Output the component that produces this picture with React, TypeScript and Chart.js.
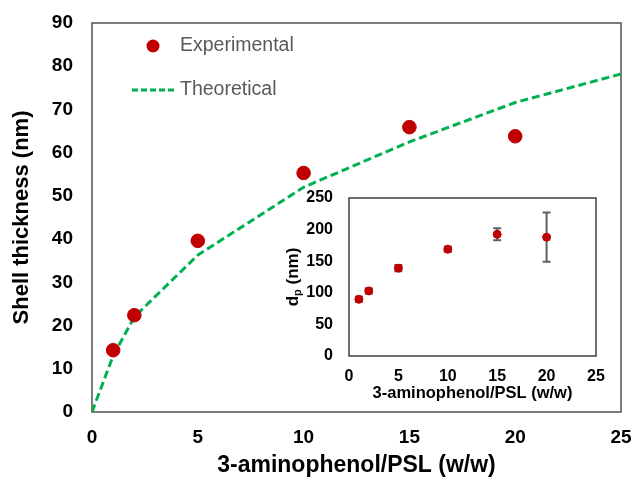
import React, { useEffect, useRef } from "react";
import { Chart, registerables } from "chart.js";
Chart.register(...registerables);

// ---- data ----
const expRatios = [1, 2, 5, 10, 15, 20];
const shellExp = [14.3, 22.4, 39.6, 55.3, 65.9, 63.8];
const theoRatios = [0, 1, 2, 5, 10, 15, 20, 25];
const shellTheo = [0, 13, 22, 36.3, 52, 62.5, 71.6, 78.2];
const dpValues = [89.7, 103, 139, 169, 192.5, 188];
const dpErrors = [4, 4, 5, 4, 9.5, 39];

const legendLabels = ["Experimental", "Theoretical"];
const mainXTitle = "3-aminophenol/PSL (w/w)";
const mainYTitle = "Shell thickness (nm)";
const insetXTitle = "3-aminophenol/PSL (w/w)";

const FONT = "'Liberation Sans', Arial, sans-serif";
const RED = "#C00000";
const GREEN = "#00B050";
const TXT = "#000000";

const boxPlugin = {
  id: "boxPlugin",
  beforeDatasetsDraw(chart: any) {
    const { ctx, chartArea: a } = chart;
    ctx.save();
    ctx.strokeStyle = "#505050";
    ctx.lineWidth = 1.5;
    ctx.strokeRect(a.left, a.top, a.right - a.left, a.bottom - a.top);
    ctx.restore();
  },
};

const legendPlugin = {
  id: "legendPlugin",
  afterDraw(chart: any) {
    const { ctx } = chart;
    ctx.save();
    ctx.fillStyle = RED;
    ctx.beginPath();
    ctx.arc(153, 46, 6.5, 0, Math.PI * 2);
    ctx.fill();
    ctx.strokeStyle = GREEN;
    ctx.lineWidth = 3;
    ctx.setLineDash([6, 3]);
    ctx.beginPath();
    ctx.moveTo(132, 90);
    ctx.lineTo(177, 90);
    ctx.stroke();
    ctx.setLineDash([]);
    ctx.fillStyle = "#595959";
    ctx.font = `19.5px ${FONT}`;
    ctx.textBaseline = "middle";
    ctx.textAlign = "left";
    ctx.fillText(legendLabels[0], 180, 46);
    ctx.fillText(legendLabels[1], 180, 90);
    ctx.restore();
  },
};

const insetPlugin = {
  id: "insetPlugin",
  beforeDraw(chart: any) {
    const { ctx, chartArea: a } = chart;
    ctx.save();
    ctx.fillStyle = "#ffffff";
    ctx.fillRect(a.left, a.top, a.right - a.left, a.bottom - a.top);
    ctx.restore();
  },
  beforeDatasetsDraw(chart: any) {
    const { ctx, chartArea: a, scales } = chart;
    ctx.save();
    ctx.strokeStyle = "#404040";
    ctx.lineWidth = 1.5;
    ctx.strokeRect(a.left, a.top, a.right - a.left, a.bottom - a.top);
    // error bars
    ctx.strokeStyle = "#606060";
    ctx.lineWidth = 2;
    expRatios.forEach((x, i) => {
      const px = scales.x.getPixelForValue(x);
      const top = scales.y.getPixelForValue(dpValues[i] + dpErrors[i]);
      const bot = scales.y.getPixelForValue(dpValues[i] - dpErrors[i]);
      ctx.beginPath();
      ctx.moveTo(px, top);
      ctx.lineTo(px, bot);
      ctx.moveTo(px - 4, top);
      ctx.lineTo(px + 4, top);
      ctx.moveTo(px - 4, bot);
      ctx.lineTo(px + 4, bot);
      ctx.stroke();
    });
    ctx.restore();
  },
  afterDraw(chart: any) {
    const { ctx, chartArea: a } = chart;
    ctx.save();
    ctx.translate(13, (a.top + a.bottom) / 2);
    ctx.rotate(-Math.PI / 2);
    ctx.fillStyle = TXT;
    ctx.textBaseline = "middle";
    ctx.textAlign = "left";
    const big = `bold 17px ${FONT}`;
    const small = `bold 11px ${FONT}`;
    ctx.font = big;
    const wd = ctx.measureText("d").width;
    const wr = ctx.measureText(" (nm)").width;
    ctx.font = small;
    const wp = ctx.measureText("p").width;
    let x = -(wd + wp + wr) / 2;
    ctx.font = big;
    ctx.fillText("d", x, 0);
    x += wd;
    ctx.font = small;
    ctx.fillText("p", x, 5);
    x += wp;
    ctx.font = big;
    ctx.fillText(" (nm)", x, 0);
    ctx.restore();
  },
};

const fixX = (h: number) => (s: any) => {
  s.height = h;
  s.paddingLeft = 0;
  s.paddingRight = 0;
  s.paddingTop = 0;
  s.paddingBottom = 0;
};
const fixY = (w: number) => (s: any) => {
  s.width = w;
  s.paddingLeft = 0;
  s.paddingRight = 0;
  s.paddingTop = 0;
  s.paddingBottom = 0;
};

export default function App() {
  const mainRef = useRef<HTMLCanvasElement>(null);
  const insetRef = useRef<HTMLCanvasElement>(null);

  useEffect(() => {
    const main = new Chart(mainRef.current!, {
      type: "scatter",
      data: {
        datasets: [
          {
            label: legendLabels[0],
            data: expRatios.map((x, i) => ({ x, y: shellExp[i] })),
            backgroundColor: RED,
            borderColor: RED,
            pointRadius: 6.8,
            showLine: false,
          },
          {
            label: legendLabels[1],
            data: theoRatios.map((x, i) => ({ x, y: shellTheo[i] })),
            borderColor: GREEN,
            backgroundColor: GREEN,
            borderWidth: 3,
            borderDash: [8, 4],
            pointRadius: 0,
            showLine: true,
            tension: 0,
          },
        ],
      },
      options: {
        responsive: false,
        animation: false,
        layout: { padding: { top: 23, right: 11, left: 0, bottom: 0 } },
        plugins: { legend: { display: false }, tooltip: { enabled: false } },
        scales: {
          x: {
            type: "linear",
            min: 0,
            max: 25,
            afterFit: fixX(67),
            grid: { display: false, drawTicks: false },
            border: { display: false },
            ticks: { stepSize: 5, padding: 14, color: TXT, font: { family: FONT, size: 19, weight: "bold" } },
            title: {
              display: true,
              text: mainXTitle,
              color: TXT,
              padding: { top: 0, bottom: 0 },
              font: { family: FONT, size: 23, weight: "bold" },
            },
          },
          y: {
            type: "linear",
            min: 0,
            max: 90,
            afterFit: fixY(92),
            grid: { display: false, drawTicks: false },
            border: { display: false },
            ticks: { stepSize: 10, padding: 19, color: TXT, font: { family: FONT, size: 19, weight: "bold" } },
            title: {
              display: true,
              text: mainYTitle,
              color: TXT,
              padding: { top: 9, bottom: 0 },
              font: { family: FONT, size: 22, weight: "bold" },
            },
          },
        },
      },
      plugins: [boxPlugin, legendPlugin],
    });

    const inset = new Chart(insetRef.current!, {
      type: "scatter",
      data: {
        datasets: [
          {
            label: "dp",
            data: expRatios.map((x, i) => ({ x, y: dpValues[i] })),
            backgroundColor: RED,
            borderColor: RED,
            pointRadius: 4,
            showLine: false,
          },
        ],
      },
      options: {
        responsive: false,
        animation: false,
        layout: { padding: { top: 13, right: 19, left: 0, bottom: 0 } },
        plugins: { legend: { display: false }, tooltip: { enabled: false } },
        scales: {
          x: {
            type: "linear",
            min: 0,
            max: 25,
            afterFit: fixX(54),
            grid: { display: false, drawTicks: false },
            border: { display: false },
            ticks: { stepSize: 5, padding: 11, color: TXT, font: { family: FONT, size: 16, weight: "bold" } },
            title: {
              display: true,
              text: insetXTitle,
              color: TXT,
              padding: { top: 0, bottom: 7 },
              font: { family: FONT, size: 16.5, weight: "bold" },
            },
          },
          y: {
            type: "linear",
            min: 0,
            max: 250,
            afterFit: fixY(69),
            grid: { display: false, drawTicks: false },
            border: { display: false },
            ticks: { stepSize: 50, padding: 16, color: TXT, font: { family: FONT, size: 16, weight: "bold" } },
          },
        },
      },
      plugins: [insetPlugin],
    });

    return () => {
      main.destroy();
      inset.destroy();
    };
  }, []);

  return (
    <div style={{ position: "absolute", left: 0, top: 0, width: 632, height: 479, background: "#fff" }}>
      <canvas ref={mainRef} width={632} height={479} style={{ position: "absolute", left: 0, top: 0 }} />
      <canvas ref={insetRef} width={335} height={225} style={{ position: "absolute", left: 280, top: 185 }} />
    </div>
  );
}
